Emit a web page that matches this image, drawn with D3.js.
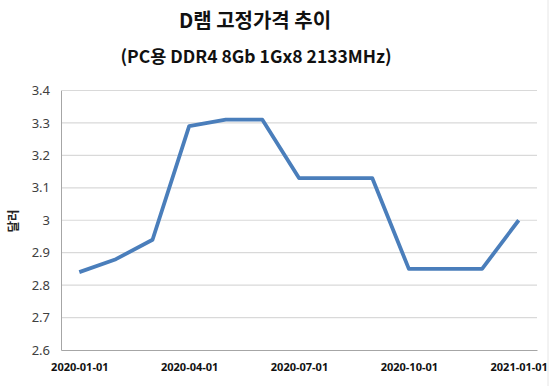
<!DOCTYPE html>
<html>
<head>
<meta charset="utf-8">
<script src="https://cdn.jsdelivr.net/npm/d3@7"></script>
<style>
  body { margin: 0; background: #fff; }
  text { font-family: "Noto Sans CJK KR", "Noto Sans", sans-serif; }
</style>
</head>
<body>
<script>
// monthly DRAM fixed prices (USD)
var months = ["2020-01-01", "2020-02-01", "2020-03-01", "2020-04-01", "2020-05-01", "2020-06-01",
              "2020-07-01", "2020-08-01", "2020-09-01", "2020-10-01", "2020-11-01", "2020-12-01", "2021-01-01"];
var prices = [2.84, 2.88, 2.94, 3.29, 3.31, 3.31, 3.13, 3.13, 3.13, 2.85, 2.85, 2.85, 3.00];
var yTicks = [2.6, 2.7, 2.8, 2.9, 3.0, 3.1, 3.2, 3.3, 3.4];
var xLabels = ["2020-01-01", "2020-04-01", "2020-07-01", "2020-10-01", "2021-01-01"];

var width = 550, height = 386;
var plotLeft = 61, plotRight = 537, plotTop = 90.5, plotBottom = 350;

var svg = d3.select("body").append("svg")
    .attr("width", width)
    .attr("height", height);

// category axis, points at the middle of each band
var xScale = d3.scalePoint()
    .domain(months)
    .range([plotLeft, plotRight])
    .padding(0.5);

var yScale = d3.scaleLinear()
    .domain([2.6, 3.4])
    .range([plotBottom, plotTop]);

// gridlines
svg.append("g")
   .selectAll("line")
   .data(yTicks.slice(1))
   .enter()
   .append("line")
   .attr("x1", plotLeft)
   .attr("x2", plotRight)
   .attr("y1", function(d) { return yScale(d); })
   .attr("y2", function(d) { return yScale(d); })
   .attr("stroke", "#d9d9d9")
   .attr("stroke-width", 1.2);

// y axis
var yAxis = d3.axisLeft(yScale)
    .tickValues(yTicks)
    .tickSize(0)
    .tickPadding(11)
    .tickFormat(function(d) { return d === 3 ? "3" : d3.format(".1f")(d); });

var gy = svg.append("g")
   .attr("transform", "translate(" + plotLeft + ",0)")
   .call(yAxis);
gy.select(".domain").attr("stroke", "#a6a6a6");
gy.selectAll("text")
  .style("font-family", "'Noto Sans', sans-serif")
  .style("font-size", "13px")
  .attr("fill", "#404040");

// x axis
var xAxis = d3.axisBottom(xScale)
    .tickValues(xLabels)
    .tickSize(0)
    .tickPadding(13);

var gx = svg.append("g")
   .attr("transform", "translate(0," + plotBottom + ")")
   .call(xAxis);
gx.select(".domain").attr("stroke", "#a6a6a6");
gx.selectAll("text")
  .style("font-family", "'Noto Sans', sans-serif")
  .style("font-size", "11px")
  .style("font-weight", "bold")
  .attr("fill", "#111");

// right border of the chart frame
svg.append("line")
   .attr("x1", 548).attr("x2", 548)
   .attr("y1", 0).attr("y2", height)
   .attr("stroke", "#e6e6e6");

// price line
var line = d3.line()
    .x(function(d, i) { return xScale(months[i]); })
    .y(function(d) { return yScale(d); });

svg.append("path")
   .datum(prices)
   .attr("d", line)
   .attr("fill", "none")
   .attr("stroke", "#4a7ebb")
   .attr("stroke-width", 3.8)
   .attr("stroke-linejoin", "round");

// titles
svg.append("text")
   .attr("x", 255)
   .attr("y", 28)
   .attr("text-anchor", "middle")
   .style("font-size", "20px")
   .style("font-weight", "bold")
   .attr("fill", "#111")
   .text("D램 고정가격 추이");

svg.append("text")
   .attr("x", 256)
   .attr("y", 63)
   .attr("text-anchor", "middle")
   .style("font-size", "17.5px")
   .style("font-weight", "bold")
   .attr("fill", "#111")
   .text("(PC용 DDR4 8Gb 1Gx8 2133MHz)");

// y axis title
svg.append("text")
   .attr("transform", "translate(18,221)rotate(-90)")
   .attr("text-anchor", "middle")
   .style("font-size", "12.5px")
   .style("font-weight", "bold")
   .attr("fill", "#222")
   .text("달러");
</script>
</body>
</html>
